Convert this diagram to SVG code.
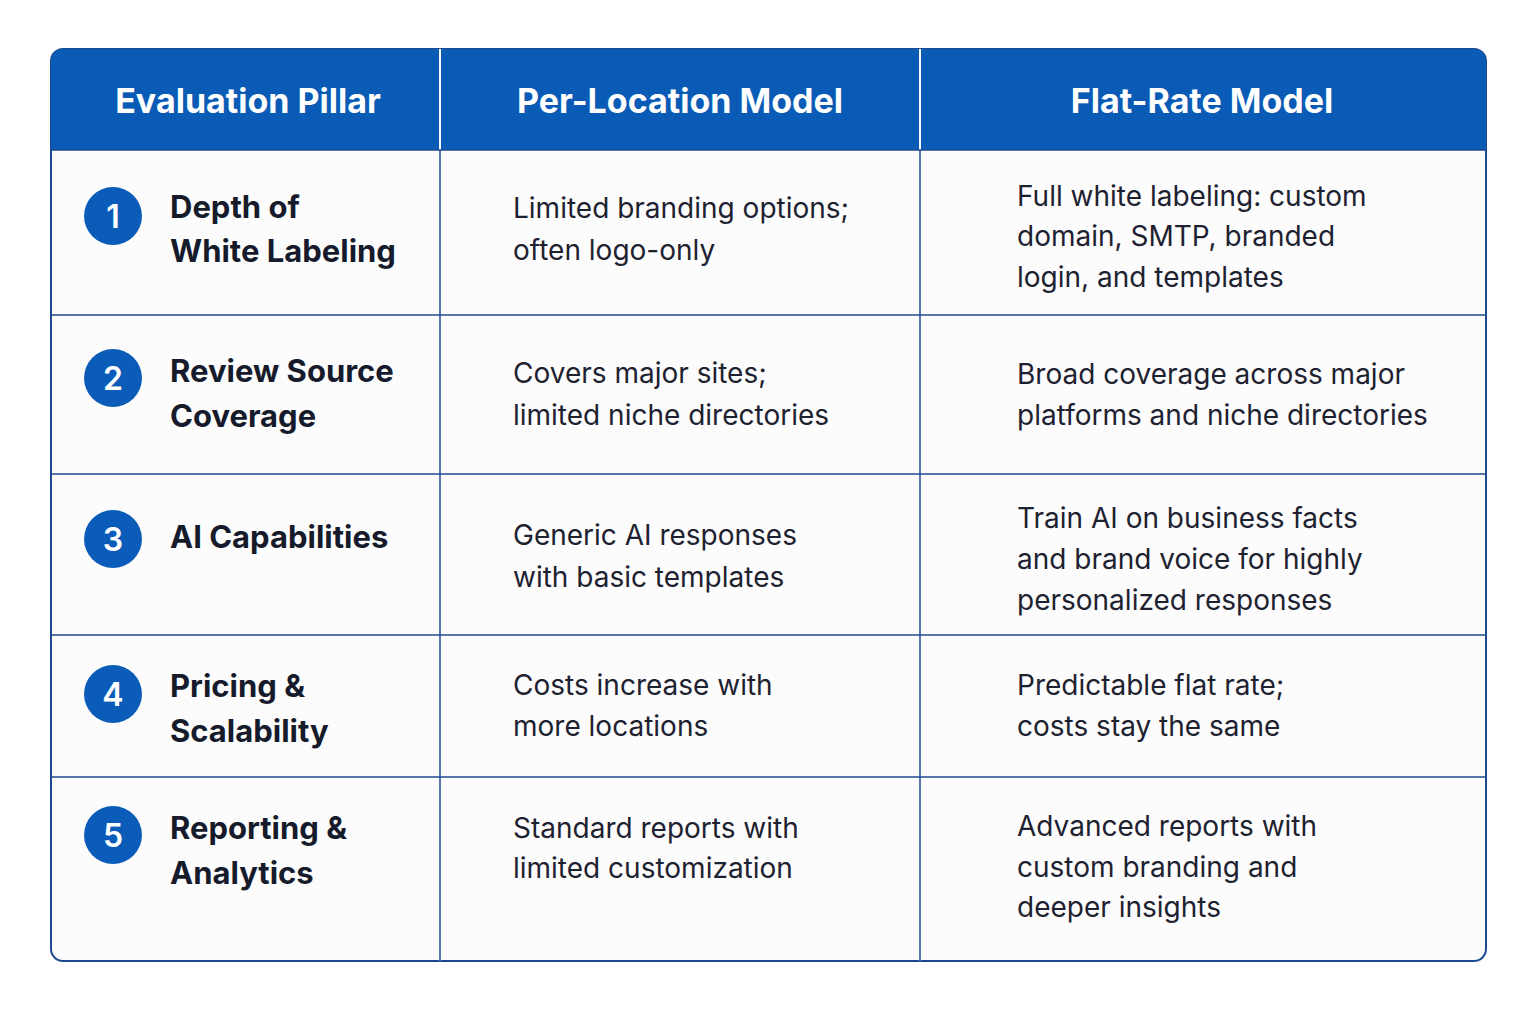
<svg xmlns="http://www.w3.org/2000/svg" width="1535" height="1011" viewBox="0 0 1535 1011">
<style>
.h{font-family:Inter,"Liberation Sans",sans-serif;font-weight:700;font-size:34px;fill:#fff;text-anchor:middle}
.p{font-family:Inter,"Liberation Sans",sans-serif;font-weight:700;font-size:31px;fill:#161b2c}
.b{font-family:Inter,"Liberation Sans",sans-serif;font-size:28px;fill:#1e2230}
.n{font-family:Inter,"Liberation Sans",sans-serif;font-weight:600;font-size:32px;fill:#fff;text-anchor:middle}
.c{fill:#0b5cb8}
.l{stroke:#1d4a8f;stroke-width:1.5}
</style>
<rect width="1535" height="1011" fill="#fff"/>
<g id="table">
<rect x="51" y="49" width="1435" height="912" rx="12" fill="#fcfcfd" stroke="#1d4a8f" stroke-width="2"/>
<path d="M51 150V61a12 12 0 0 1 12-12H1474a12 12 0 0 1 12 12V150Z" fill="#0a5bb5"/>
<g class="l">
<line x1="440" y1="49" x2="440" y2="961" stroke="#fff" stroke-width="2"/>
<line x1="920" y1="49" x2="920" y2="961" stroke="#fff" stroke-width="2"/>
<line x1="440" y1="150" x2="440" y2="961"/>
<line x1="920" y1="150" x2="920" y2="961"/>
<line x1="51" y1="150" x2="1486" y2="150"/>
<line x1="51" y1="315" x2="1486" y2="315"/>
<line x1="51" y1="474" x2="1486" y2="474"/>
<line x1="51" y1="635" x2="1486" y2="635"/>
<line x1="51" y1="777" x2="1486" y2="777"/>
</g>
</g>
<g id="header">
<text class="h" x="248" y="113">Evaluation Pillar</text>
<text class="h" x="680" y="113">Per-Location Model</text>
<text class="h" x="1202" y="113">Flat-Rate Model</text>
</g>
<g id="row1">
<circle class="c" cx="113" cy="216" r="29"/><text class="n" x="113" y="228">1</text>
<text class="p" x="170" y="218">Depth of</text><text class="p" x="170" y="262">White Labeling</text>
<text class="b" x="513" y="218">Limited branding options;</text><text class="b" x="513" y="260">often logo-only</text>
<text class="b" x="1017" y="206">Full white labeling: custom</text><text class="b" x="1017" y="246">domain, SMTP, branded</text><text class="b" x="1017" y="287">login, and templates</text>
</g>
<g id="row2">
<circle class="c" cx="113" cy="378" r="29"/><text class="n" x="113" y="390">2</text>
<text class="p" x="170" y="382">Review Source</text><text class="p" x="170" y="427">Coverage</text>
<text class="b" x="513" y="383">Covers major sites;</text><text class="b" x="513" y="425">limited niche directories</text>
<text class="b" x="1017" y="384">Broad coverage across major</text><text class="b" x="1017" y="425">platforms and niche directories</text>
</g>
<g id="row3">
<circle class="c" cx="113" cy="539" r="29"/><text class="n" x="113" y="551">3</text>
<text class="p" x="170" y="548">AI Capabilities</text>
<text class="b" x="513" y="545">Generic AI responses</text><text class="b" x="513" y="587">with basic templates</text>
<text class="b" x="1017" y="528">Train AI on business facts</text><text class="b" x="1017" y="569">and brand voice for highly</text><text class="b" x="1017" y="610">personalized responses</text>
</g>
<g id="row4">
<circle class="c" cx="113" cy="694" r="29"/><text class="n" x="113" y="706">4</text>
<text class="p" x="170" y="697">Pricing &amp;</text><text class="p" x="170" y="742">Scalability</text>
<text class="b" x="513" y="695">Costs increase with</text><text class="b" x="513" y="736">more locations</text>
<text class="b" x="1017" y="695">Predictable flat rate;</text><text class="b" x="1017" y="736">costs stay the same</text>
</g>
<g id="row5">
<circle class="c" cx="113" cy="835" r="29"/><text class="n" x="113" y="847">5</text>
<text class="p" x="170" y="839">Reporting &amp;</text><text class="p" x="170" y="884">Analytics</text>
<text class="b" x="513" y="838">Standard reports with</text><text class="b" x="513" y="878">limited customization</text>
<text class="b" x="1017" y="836">Advanced reports with</text><text class="b" x="1017" y="877">custom branding and</text><text class="b" x="1017" y="917">deeper insights</text>
</g>
</svg>
